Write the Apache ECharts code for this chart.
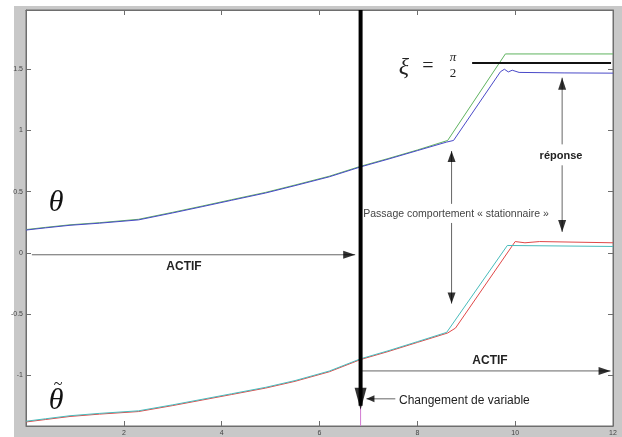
<!DOCTYPE html>
<html><head><meta charset="utf-8">
<script src="https://cdn.jsdelivr.net/npm/echarts@6/dist/echarts.min.js"></script>
<style>html,body{margin:0;padding:0;background:#fff}#c{width:622px;height:437px}</style>
</head><body><div id="c"></div>
<script>
// ---- data ----
const xTicks = [0, 2, 4, 6, 8, 10, 12];
const yTicks = [-1, -0.5, 0, 0.5, 1, 1.5];

const thetaGreenX = [0, 0.4, 0.9, 1.5, 2.3, 3.0, 3.6, 4.2, 4.9, 5.5, 6.2, 6.84, 7.4, 8.0, 8.62, 9.8, 12];
const thetaGreenY = [0.19, 0.208, 0.229, 0.246, 0.274, 0.331, 0.382, 0.434, 0.494, 0.554, 0.626, 0.707, 0.770, 0.840, 0.918, 1.625, 1.625];
const thetaBlueX = [0, 0.4, 0.9, 1.5, 2.3, 3.0, 3.6, 4.2, 4.9, 5.5, 6.2, 6.84, 7.4, 8.0, 8.6, 8.74, 9.7, 9.78, 9.86, 9.94, 10.08, 11, 12];
const thetaBlueY = [0.186, 0.204, 0.225, 0.242, 0.269, 0.326, 0.377, 0.429, 0.489, 0.549, 0.621, 0.702, 0.765, 0.835, 0.905, 0.918, 1.48, 1.50, 1.478, 1.492, 1.474, 1.47, 1.468];

const tildeRedX = [0, 0.4, 0.9, 1.5, 2.3, 3.0, 3.6, 4.2, 4.9, 5.5, 6.2, 6.84, 7.4, 8.0, 8.62, 8.78, 10.0, 10.2, 10.5, 12];
const tildeRedY = [-1.382, -1.362, -1.337, -1.318, -1.297, -1.248, -1.203, -1.158, -1.105, -1.05, -0.972, -0.872, -0.807, -0.732, -0.655, -0.615, 0.092, 0.082, 0.092, 0.082];
const tildeCyanX = [0, 0.4, 0.9, 1.5, 2.3, 3.0, 3.6, 4.2, 4.9, 5.5, 6.2, 6.84, 7.4, 8.0, 8.6, 9.84, 12];
const tildeCyanY = [-1.376, -1.356, -1.331, -1.312, -1.291, -1.242, -1.197, -1.152, -1.099, -1.044, -0.966, -0.866, -0.801, -0.726, -0.65, 0.06, 0.052];

const xiX = [9.12, 11.96];
const xiY = [1.55, 1.55];

const switchX = [6.84, 6.84];
const switchY = [1.984, -1.25];
const switchTip = [6.84, -1.282];
const magentaX = [6.84, 6.84];
const magentaY = [-1.415, 1.984];

// thin annotation arrows: [x0, y0, x1(tip), y1(tip)]
const arrows = [
  [0.12, -0.016, 6.73, -0.016],   // ACTIF (left)
  [6.87, -0.965, 11.95, -0.965],  // ACTIF (right)
  [7.55, -1.193, 6.96, -1.193],   // Changement de variable
  [8.70, 0.40, 8.70, 0.832],      // Passage up
  [8.70, 0.244, 8.70, -0.415],    // Passage down
  [10.96, 0.886, 10.96, 1.431],   // réponse up
  [10.96, 0.715, 10.96, 0.171]    // réponse down
];

const xMin = 0, xMax = 12, yMin = -1.415, yMax = 1.984;

function zip(a, b) { return a.map((v, i) => [v, b[i]]); }

const chart = echarts.init(document.getElementById('c'), null, {renderer: 'canvas'});

function headOf(a, size) {
  const dx = a[2] - a[0], dy = a[3] - a[1];
  let rot, off;
  const h = size[1] / 2;
  if (Math.abs(dx) > Math.abs(dy)) {
    if (dx > 0) { rot = -90; off = [-h, 0]; } else { rot = 90; off = [h, 0]; }
  } else {
    if (dy > 0) { rot = 0; off = [0, h]; } else { rot = 180; off = [0, -h]; }
  }
  return {value: [a[2], a[3]], symbolRotate: rot, symbolOffset: off, symbolSize: size};
}

const headSizes = [[8,12],[8,12],[7,8],[8,11],[8,11],[8,12],[8,12]];

const curve = (x, y, col) => ({type: 'line', data: zip(x, y), showSymbol: false,
  lineStyle: {color: col, width: 1}, z: 3});

const series = [];
series.push({type: 'line', data: zip(magentaX, magentaY), showSymbol: false, lineStyle: {color: '#d27ad2', width: 1}, z: 2});
series.push(curve(thetaGreenX, thetaGreenY, '#5fb35f'));
series.push(curve(thetaBlueX, thetaBlueY, '#4a4ac8'));
series.push(curve(tildeRedX, tildeRedY, '#e04848'));
series.push(curve(tildeCyanX, tildeCyanY, '#48bcbc'));
series.push({type: 'line', data: zip(xiX, xiY), showSymbol: false, lineStyle: {color: '#111', width: 2}, z: 4});
arrows.forEach(a => {
  series.push({type: 'line', data: [[a[0], a[1]], [a[2], a[3]]], showSymbol: false, lineStyle: {color: '#666', width: 1}, z: 4});
});
series.push({type: 'scatter', symbol: 'triangle', itemStyle: {color: '#000'}, z: 6,
  data: arrows.map((a, i) => headOf(a, headSizes[i]))});
series.push({type: 'line', data: zip(switchX, switchY), showSymbol: false, lineStyle: {color: '#000', width: 4}, z: 5});
series.push({type: 'scatter', symbol: 'triangle', itemStyle: {color: '#000'}, z: 6,
  data: [headOf([switchX[0], switchY[0], switchTip[0], switchTip[1]], [12, 22])]});

const axisCol = '#6e6e6e';
const lblFont = {fontSize: 7, color: '#444', fontFamily: 'Liberation Sans'};
const aLine = {show: true, onZero: false, lineStyle: {color: axisCol}};
const aTick = {show: true, inside: true, length: 5, lineStyle: {color: axisCol}};

const option = {
  animation: false,
  backgroundColor: '#fff',
  grid: {left: 26, top: 10, width: 587, height: 418, show: true, backgroundColor: '#fff', borderColor: axisCol, borderWidth: 1},
  xAxis: [
    {type: 'value', min: xMin, max: xMax, interval: 2, position: 'bottom',
     axisLine: aLine, axisTick: aTick,
     splitLine: {show: false}, axisLabel: Object.assign({margin: 4, showMinLabel: false}, lblFont)},
    {type: 'value', min: xMin, max: xMax, interval: 2, position: 'top',
     axisLine: aLine, axisTick: aTick,
     splitLine: {show: false}, axisLabel: {show: false}}
  ],
  yAxis: [
    {type: 'value', min: yMin, max: yMax, splitNumber: 7, position: 'left',
     axisLine: aLine, axisTick: aTick,
     splitLine: {show: false},
     axisLabel: Object.assign({margin: 3, showMinLabel: false, showMaxLabel: false,
       formatter: v => (yTicks.some(t => Math.abs(t - v) < 1e-6) ? String(Math.round(v * 10) / 10) : '')}, lblFont)},
    {type: 'value', min: yMin, max: yMax, splitNumber: 7, position: 'right',
     axisLine: aLine, axisTick: aTick,
     splitLine: {show: false}, axisLabel: {show: false}}
  ],
  series: series,
  graphic: [
    {type: 'rect', z: -100, silent: true, shape: {x: 14, y: 6, width: 608, height: 431}, style: {fill: '#c8c8c8'}},
    {type: 'text', x: 56, y: 203, z: 100, style: {text: 'θ', font: 'italic 30px "Liberation Serif"', fill: '#111', textAlign: 'center', textVerticalAlign: 'middle'}},
    {type: 'text', x: 56, y: 401, z: 100, style: {text: 'θ', font: 'italic 30px "Liberation Serif"', fill: '#111', textAlign: 'center', textVerticalAlign: 'middle'}},
    {type: 'text', x: 58, y: 385, z: 100, style: {text: '~', font: '16px "Liberation Serif"', fill: '#111', textAlign: 'center', textVerticalAlign: 'middle'}},
    {type: 'text', x: 404, y: 68, z: 100, style: {text: 'ξ', font: 'italic 24px "Liberation Serif"', fill: '#222', textAlign: 'center', textVerticalAlign: 'middle'}},
    {type: 'text', x: 428, y: 67, z: 100, style: {text: '=', font: '20px "Liberation Serif"', fill: '#222', textAlign: 'center', textVerticalAlign: 'middle'}},
    {type: 'text', x: 453, y: 58, z: 100, style: {text: 'π', font: 'italic 13px "Liberation Serif"', fill: '#222', textAlign: 'center', textVerticalAlign: 'middle'}},
    {type: 'text', x: 453, y: 74, z: 100, style: {text: '2', font: '13px "Liberation Serif"', fill: '#222', textAlign: 'center', textVerticalAlign: 'middle'}},
    {type: 'text', x: 184, y: 267, z: 100, style: {text: 'ACTIF', font: 'bold 12px "Liberation Sans"', fill: '#222', textAlign: 'center', textVerticalAlign: 'middle'}},
    {type: 'text', x: 490, y: 361, z: 100, style: {text: 'ACTIF', font: 'bold 12px "Liberation Sans"', fill: '#222', textAlign: 'center', textVerticalAlign: 'middle'}},
    {type: 'text', x: 456, y: 214, z: 100, style: {text: 'Passage comportement « stationnaire »', font: '10.5px "Liberation Sans"', fill: '#444', textAlign: 'center', textVerticalAlign: 'middle'}},
    {type: 'text', x: 561, y: 156, z: 100, style: {text: 'réponse', font: 'bold 11px "Liberation Sans"', fill: '#222', textAlign: 'center', textVerticalAlign: 'middle'}},
    {type: 'text', x: 399, y: 401, z: 100, style: {text: 'Changement de variable', font: '12px "Liberation Sans"', fill: '#222', textAlign: 'left', textVerticalAlign: 'middle'}}
  ]
};
chart.setOption(option);
</script></body></html>
